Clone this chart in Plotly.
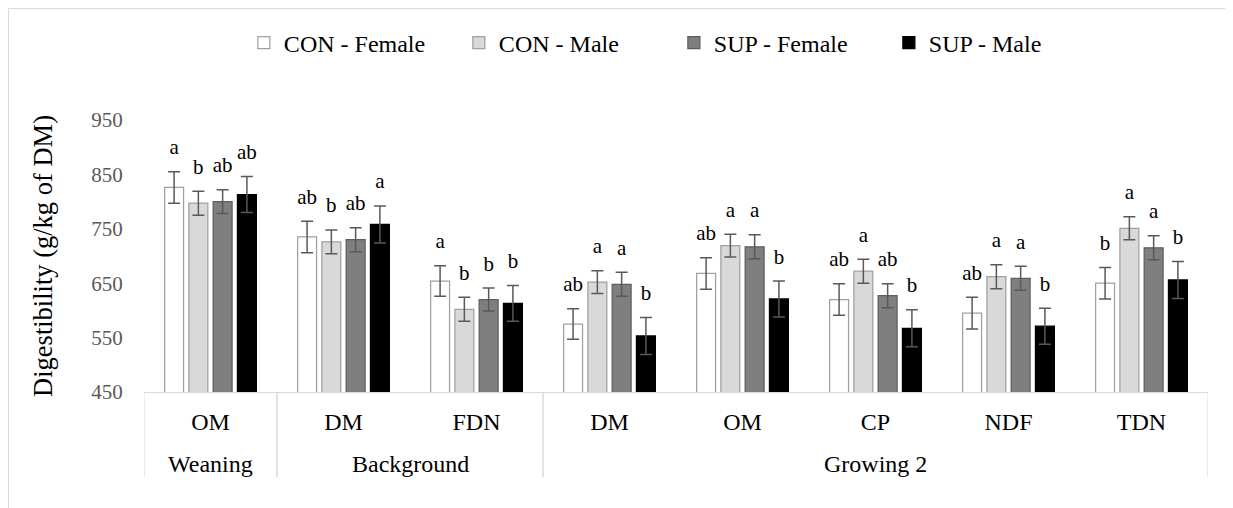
import plotly.graph_objects as go

# ---- data ----
phase = ["Weaning", "Background", "Background", "Growing 2", "Growing 2", "Growing 2", "Growing 2", "Growing 2"]
nutrient = ["OM", "DM", "FDN", "DM", "OM", "CP", "NDF", "TDN"]

series_names = ["CON - Female", "CON - Male", "SUP - Female", "SUP - Male"]

con_female = [826, 735, 654, 575, 668, 620, 595, 650]
con_female_se = [29, 29, 28, 28, 29, 29, 29, 29]
con_female_letters = ["a", "ab", "a", "ab", "ab", "ab", "ab", "b"]

con_male = [797, 726, 602, 652, 719, 672, 662, 751]
con_male_se = [22, 22, 22, 21, 21, 22, 22, 21]
con_male_letters = ["b", "b", "b", "a", "a", "a", "a", "a"]

sup_female = [800, 730, 620, 648, 717, 627, 659, 715]
sup_female_se = [22, 22, 21, 22, 22, 22, 22, 22]
sup_female_letters = ["ab", "ab", "b", "a", "a", "ab", "a", "a"]

sup_male = [813, 758, 613, 553, 621, 567, 571, 656]
sup_male_se = [33, 34, 33, 34, 33, 34, 33, 34]
sup_male_letters = ["ab", "a", "b", "b", "b", "b", "b", "b"]

y_ticks = [450, 550, 650, 750, 850, 950]

# ---- styles ----
FONT = "Liberation Serif, Times New Roman, serif"
fills = ["#ffffff", "#d9d9d9", "#7f7f7f", "#000000"]
outlines = ["#a0a0a0", "#a0a0a0", "#5e5e5e", "#000000"]

values = [con_female, con_male, sup_female, sup_male]
errors = [con_female_se, con_male_se, sup_female_se, sup_male_se]
letters = [con_female_letters, con_male_letters, sup_female_letters, sup_male_letters]

xpos = list(range(len(nutrient)))

fig = go.Figure()
for i, name in enumerate(series_names):
    fig.add_trace(go.Bar(
        x=xpos, y=values[i], name=name,
        offsetgroup=str(i),
        marker=dict(color=fills[i], line=dict(color=outlines[i], width=1.25)),
        error_y=dict(type="data", array=errors[i], visible=True,
                     color="#595959", thickness=1.5, width=6),
    ))

for i, name in enumerate(series_names):
    tops = [v + e for v, e in zip(values[i], errors[i])]
    fig.add_trace(go.Scatter(
        x=xpos, y=tops, mode="markers+text", text=letters[i],
        textposition="top center", offsetgroup=str(i),
        marker=dict(size=18, color="rgba(0,0,0,0)"),
        textfont=dict(family=FONT, size=21, color="#000000"),
        showlegend=False, hoverinfo="skip", cliponaxis=False,
    ))

# page body has an 8px margin, so the figure is sized to fit the window
W, H = 1225, 500
ml, mr, mt, mb = 136, 25, 112, 116
pw, ph = W - ml - mr, H - mt - mb

# group (outer level) labels and dividers, derived from the phase list
groups = []
for idx, p in enumerate(phase):
    if groups and groups[-1][0] == p:
        groups[-1][2] = idx
    else:
        groups.append([p, idx, idx])

div_len = 85 / ph
label_y = -71.5 / ph
for name, a, b in groups:
    fig.add_annotation(x=(a + b) / 2, y=label_y, xref="x", yref="paper",
                       text=name, showarrow=False, yanchor="middle",
                       font=dict(family=FONT, size=24, color="#000000"))
    for edge in (a - 0.5, b + 0.5):
        fig.add_shape(type="line", xref="x", yref="paper",
                      x0=edge, x1=edge, y0=0, y1=-div_len,
                      line=dict(color="#d9d9d9", width=1))

fig.update_layout(
    width=W, height=H,
    margin=dict(l=ml, r=mr, t=mt, b=mb, autoexpand=False),
    paper_bgcolor="white", plot_bgcolor="white",
    barmode="group", bargap=0.27, bargroupgap=0.22,
    scattermode="group", scattergap=0.27,
    font=dict(family=FONT, color="#000000"),
    legend=dict(orientation="h", x=0.498, xanchor="center", y=1 + (112 - 35) / ph, yanchor="middle",
                font=dict(family=FONT, size=24, color="#000000"),
                entrywidth=170, itemwidth=30, traceorder="normal"),
    showlegend=True,
    xaxis=dict(
        range=[-0.5, len(nutrient) - 0.5],
        tickvals=xpos, ticktext=nutrient,
        showline=True, linecolor="#d9d9d9", linewidth=1,
        ticks="outside", ticklen=8, tickcolor="rgba(0,0,0,0)",
        tickfont=dict(family=FONT, size=24, color="#000000"),
        showgrid=False, zeroline=False, automargin=False,
    ),
    yaxis=dict(
        range=[450, 950], tickvals=y_ticks,
        showgrid=False, zeroline=False, showline=False,
        ticks="outside", ticklen=16, tickcolor="rgba(0,0,0,0)",
        tickfont=dict(family=FONT, size=21, color="#595959"),
        automargin=False,
        title=dict(text="Digestibility (g/kg of DM)", standoff=31,
                   font=dict(family=FONT, size=26.5, color="#000000")),
    ),
)

# outer chart frame (light grey)
fig.add_shape(type="rect", xref="paper", yref="paper",
              x0=(0.5 - ml) / pw, x1=(W + 10 - ml) / pw,
              y0=-(mb + 10) / ph, y1=1 + (mt - 0.5) / ph,
              line=dict(color="#d9d9d9", width=1), fillcolor="rgba(0,0,0,0)", layer="below")

fig.write_html("out.html")
